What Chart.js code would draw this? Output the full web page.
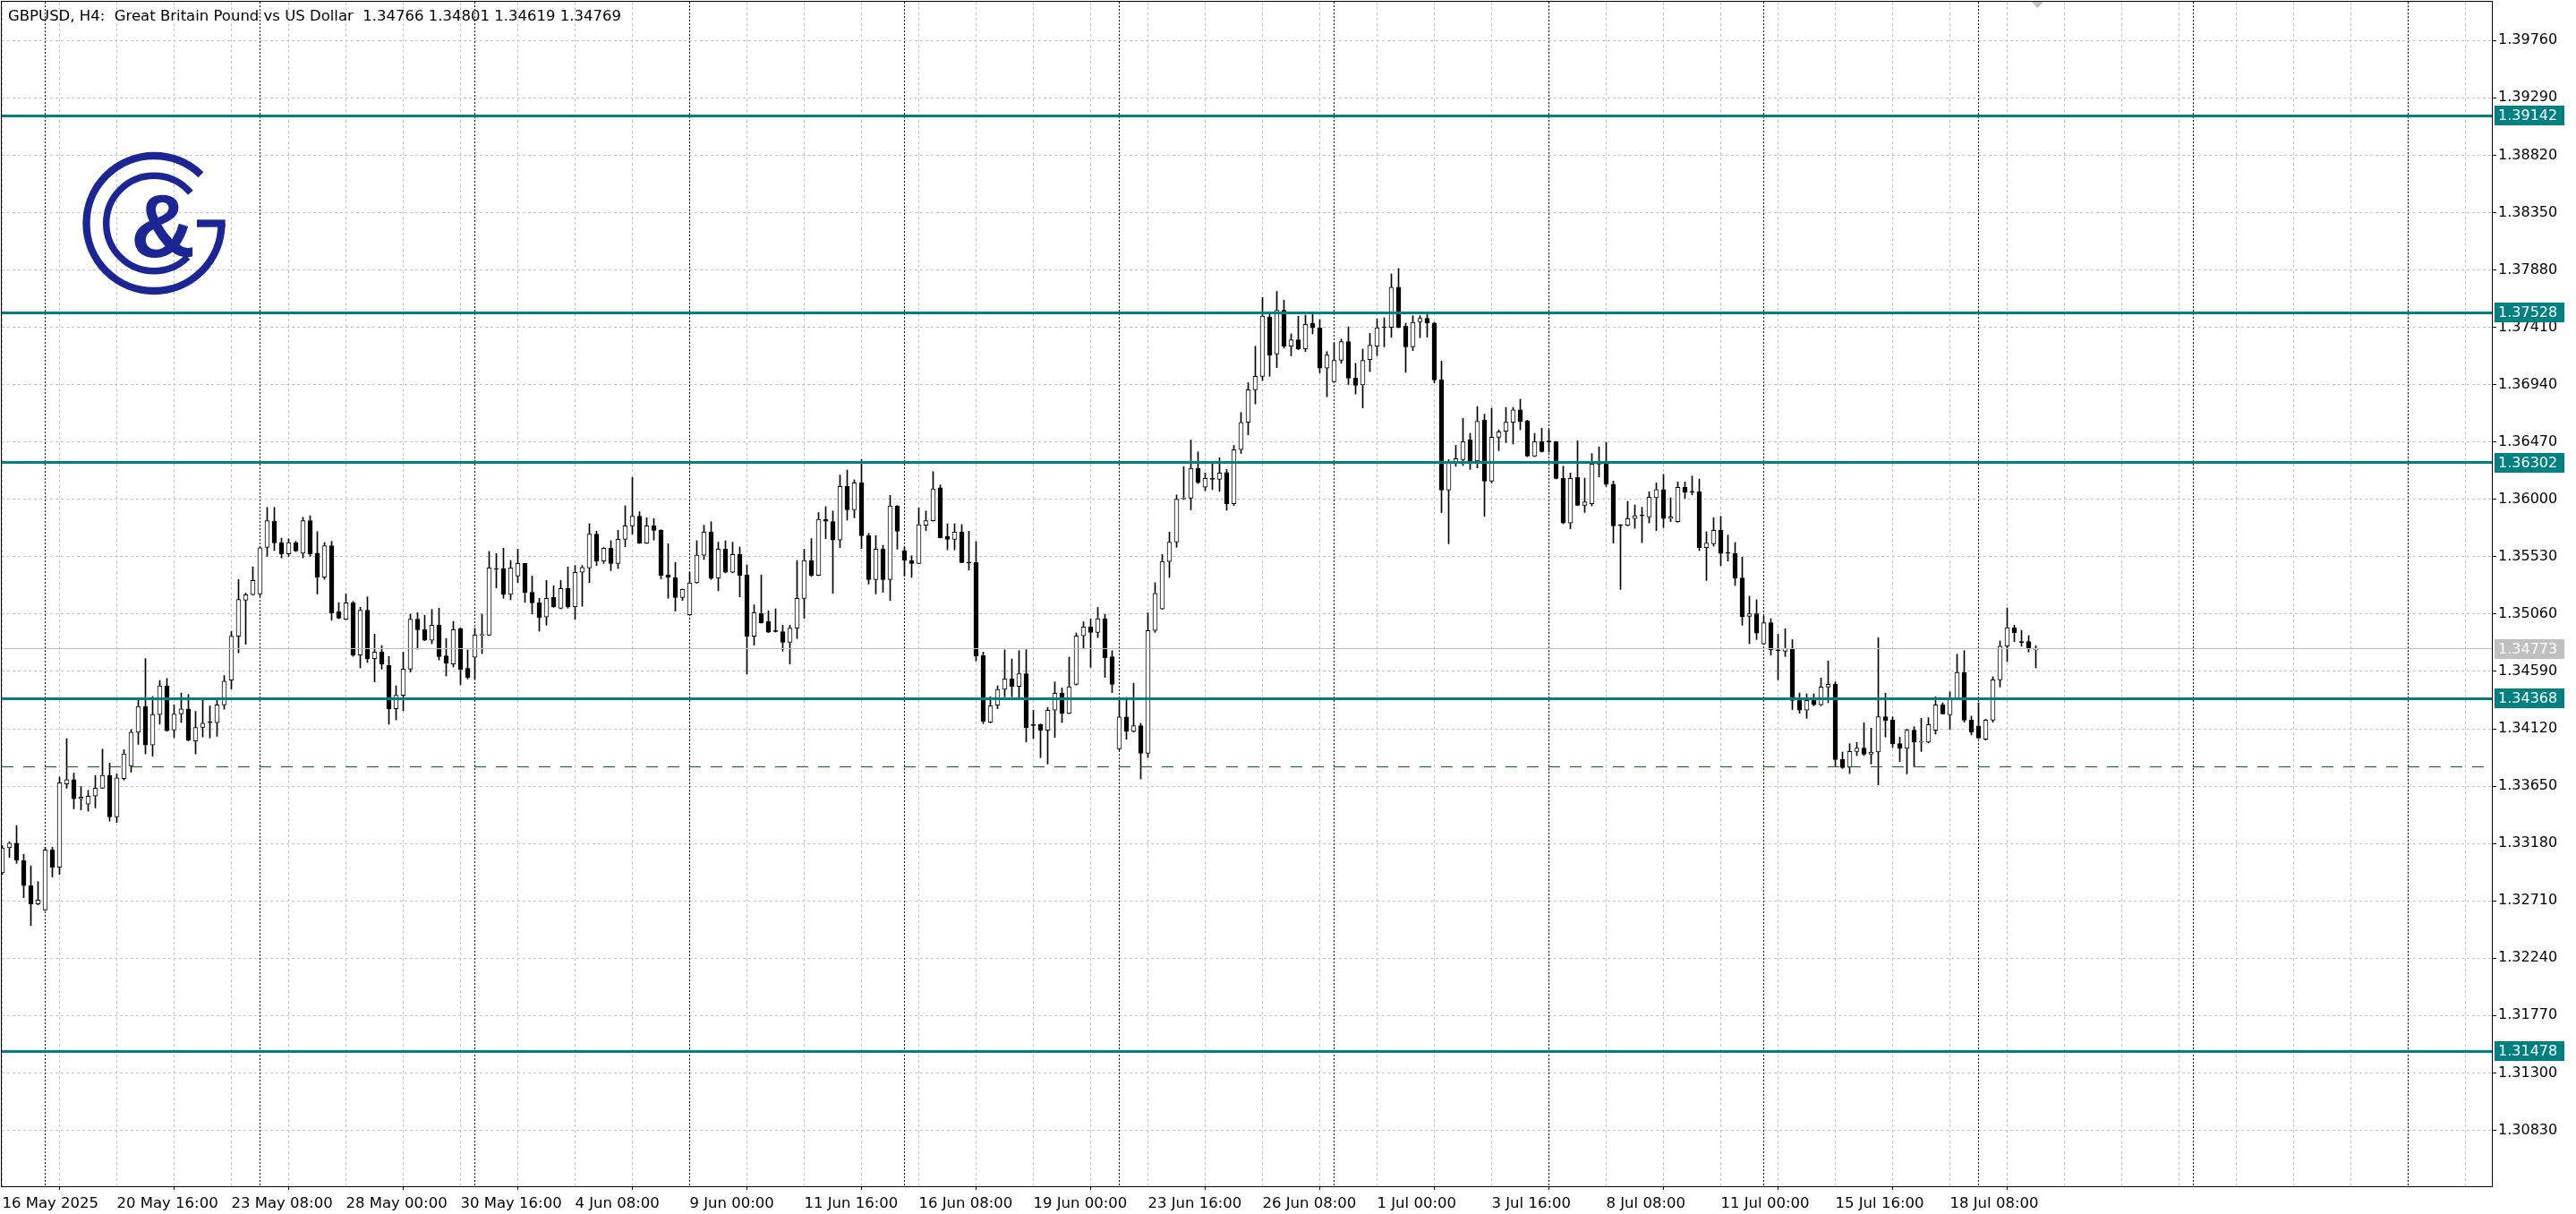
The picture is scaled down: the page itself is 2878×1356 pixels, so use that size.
<!DOCTYPE html>
<html><head><meta charset="utf-8">
<script src="https://cdn.jsdelivr.net/npm/chart.js@4.4.1/dist/chart.umd.min.js"></script>
<style>html,body{margin:0;padding:0;background:#fff;overflow:hidden}canvas{display:block}</style>
</head><body>
<canvas id="c" width="2878" height="1356"></canvas>
<script>
const titleText = "GBPUSD, H4:  Great Britain Pound vs US Dollar  1.34766 1.34801 1.34619 1.34769";
const tickLabels = ["16 May 2025","20 May 16:00","23 May 08:00","28 May 00:00","30 May 16:00","4 Jun 08:00","9 Jun 00:00","11 Jun 16:00","16 Jun 08:00","19 Jun 00:00","23 Jun 16:00","26 Jun 08:00","1 Jul 00:00","3 Jul 16:00","8 Jul 08:00","11 Jul 00:00","15 Jul 16:00","18 Jul 08:00"];
const barsPerLabel = 16;
const weekStarts = [6,36,66,96,126,156,186,216,246,276,306,336];
const yTicks = [1.39760,1.39290,1.38820,1.38350,1.37880,1.37410,1.36940,1.36470,1.36000,1.35530,1.35060,1.34590,1.34120,1.33650,1.33180,1.32710,1.32240,1.31770,1.31300,1.30830];
const levels = [1.39142,1.37528,1.36302,1.34368,1.31478];
const bidPrice = 1.34773;
const dashedLevel = 1.33807;

const opens = [
1.32939,1.33144,1.33183,1.33039,1.32834,1.32685,1.32635,1.33128,1.32986,1.33668,
1.33704,1.33547,1.33502,1.33568,1.33633,1.33738,1.33398,1.33712,1.33817,1.34092,
1.34302,1.33987,1.34236,1.34472,1.34110,1.34241,1.34283,1.34019,1.34131,1.34176,
1.34171,1.34315,1.34519,1.34878,1.35174,1.35219,1.35224,1.35606,1.35821,1.35646,
1.35554,1.35646,1.35559,1.35826,1.35559,1.35363,1.35619,1.35080,1.35018,1.35152,
1.34724,1.35091,1.34695,1.34749,1.34638,1.34284,1.34394,1.34609,1.35018,1.34932,
1.34846,1.34969,1.34717,1.34651,1.34942,1.34614,1.34705,1.34886,1.34888,1.35431,
1.35433,1.35221,1.35372,1.35475,1.35238,1.35152,1.35035,1.35196,1.35108,1.35269,
1.35120,1.35402,1.35438,1.35715,1.35494,1.35600,1.35475,1.35673,1.35783,1.35861,
1.35641,1.35783,1.35746,1.35379,1.35360,1.35196,1.35054,1.35316,1.35543,1.35732,
1.35355,1.35592,1.35402,1.35548,1.35379,1.34878,1.35066,1.34998,1.34922,1.34915,
1.34829,1.34944,1.35189,1.35499,1.35377,1.35837,1.35817,1.35666,1.36106,1.35915,
1.36135,1.35702,1.35343,1.35592,1.35343,1.35947,1.35580,1.35499,1.35475,1.35788,
1.35825,1.36094,1.35697,1.35673,1.35732,1.35482,1.35482,1.34719,1.34174,1.34313,
1.34443,1.34528,1.34467,1.34571,1.34153,1.34156,1.34107,1.34272,1.34411,1.34246,
1.34484,1.34881,1.34954,1.34910,1.35021,1.34710,1.33956,1.34217,1.34098,1.34145,
1.33918,1.34925,1.35102,1.35491,1.35650,1.36004,1.36010,1.36254,1.36100,1.36170,
1.36164,1.36219,1.35964,1.36407,1.36631,1.36898,1.37008,1.37495,1.37191,1.37550,
1.37255,1.37307,1.37234,1.37443,1.37405,1.37075,1.36964,1.37139,1.37292,1.36993,
1.36937,1.37145,1.37255,1.37412,1.37409,1.37739,1.37419,1.37250,1.37456,1.37483,
1.37444,1.36979,1.36076,1.36306,1.36326,1.36490,1.36314,1.36649,1.36150,1.36509,
1.36558,1.36632,1.36734,1.36644,1.36355,1.36473,1.36475,1.36473,1.36172,1.35807,
1.36179,1.35952,1.35964,1.36289,1.36314,1.36125,1.35790,1.35788,1.35842,1.35866,
1.35856,1.36013,1.36081,1.35842,1.35817,1.36098,1.36064,1.36062,1.35604,1.35636,
1.35746,1.35563,1.35558,1.35355,1.35042,1.35062,1.34815,1.34988,1.34766,1.34756,
1.34778,1.34352,1.34272,1.34352,1.34316,1.34462,1.34484,1.33868,1.33807,1.33934,
1.33961,1.33912,1.33929,1.34218,1.34191,1.33998,1.33959,1.34108,1.34010,1.34010,
1.34108,1.34316,1.34235,1.34365,1.34582,1.34191,1.34144,1.34034,1.34191,1.34521,
1.34797,1.34949,1.34832,1.34834,1.34766];

const highs = [
1.33162,1.33196,1.33327,1.33091,1.32997,1.32868,1.33149,1.33149,1.33725,1.34040,
1.33757,1.33647,1.33615,1.33738,1.33953,1.33838,1.33751,1.33948,1.34113,1.34359,
1.34695,1.34385,1.34516,1.34532,1.34315,1.34412,1.34401,1.34262,1.34359,1.34307,
1.34359,1.34556,1.34917,1.35342,1.35232,1.35446,1.35612,1.35934,1.35934,1.35682,
1.35677,1.35656,1.35853,1.35866,1.35735,1.35646,1.35656,1.35153,1.35225,1.35164,
1.35115,1.35201,1.34895,1.34802,1.34712,1.34472,1.34749,1.35059,1.35071,1.35049,
1.35098,1.35108,1.34859,1.35000,1.34947,1.34766,1.34944,1.35059,1.35573,1.35556,
1.35600,1.35499,1.35592,1.35476,1.35372,1.35189,1.35335,1.35291,1.35335,1.35446,
1.35458,1.35458,1.35800,1.35739,1.35605,1.35661,1.35746,1.35947,1.36179,1.35898,
1.35849,1.35842,1.35751,1.35636,1.35482,1.35265,1.35402,1.35661,1.35788,1.35817,
1.35649,1.35661,1.35649,1.35609,1.35463,1.35135,1.35380,1.35086,1.35103,1.34969,
1.34969,1.35499,1.35592,1.35678,1.35891,1.35940,1.35905,1.36199,1.36240,1.36160,
1.36326,1.35722,1.35702,1.35624,1.36032,1.35950,1.35609,1.35538,1.35930,1.35905,
1.36228,1.36118,1.35800,1.35800,1.35793,1.35739,1.35653,1.34749,1.34382,1.34472,
1.34766,1.34692,1.34761,1.34768,1.34272,1.34159,1.34295,1.34504,1.34455,1.34707,
1.34905,1.34997,1.35021,1.35114,1.35058,1.34760,1.34377,1.34377,1.34493,1.34165,
1.35070,1.35317,1.35549,1.35731,1.36036,1.36268,1.36486,1.36390,1.36216,1.36297,
1.36341,1.36245,1.36442,1.36712,1.36956,1.37255,1.37655,1.37521,1.37704,1.37632,
1.37356,1.37501,1.37510,1.37516,1.37472,1.37211,1.37284,1.37313,1.37414,1.37115,
1.37231,1.37360,1.37480,1.37488,1.37847,1.37891,1.37444,1.37505,1.37505,1.37529,
1.37451,1.37133,1.36326,1.36443,1.36663,1.36541,1.36761,1.36698,1.36747,1.36570,
1.36754,1.36754,1.36820,1.36649,1.36541,1.36583,1.36570,1.36475,1.36272,1.36216,
1.36480,1.36174,1.36375,1.36429,1.36468,1.36150,1.35793,1.35984,1.35954,1.35935,
1.36062,1.36135,1.36204,1.36013,1.36143,1.36143,1.36191,1.36167,1.35734,1.35849,
1.35861,1.35707,1.35646,1.35526,1.35206,1.35177,1.35042,1.35022,1.34895,1.34939,
1.34851,1.34413,1.34406,1.34406,1.34536,1.34675,1.34504,1.33929,1.33998,1.34008,
1.34169,1.34125,1.34866,1.34411,1.34218,1.34052,1.34118,1.34137,1.34206,1.34211,
1.34382,1.34333,1.34423,1.34731,1.34761,1.34223,1.34333,1.34198,1.34546,1.34839,
1.35110,1.34969,1.34927,1.34883,1.34801];

const lows = [
1.32926,1.33065,1.33018,1.32735,1.32507,1.32677,1.32630,1.32905,1.32926,1.33633,
1.33463,1.33455,1.33445,1.33471,1.33630,1.33364,1.33353,1.33699,1.33764,1.33992,
1.33914,1.33895,1.34157,1.34100,1.34047,1.34171,1.34021,1.33914,1.34053,1.34045,
1.34058,1.34280,1.34446,1.34742,1.34812,1.35215,1.35205,1.35533,1.35580,1.35520,
1.35533,1.35572,1.35520,1.35533,1.35224,1.35344,1.35009,1.35022,1.35015,1.34712,
1.34619,1.34663,1.34504,1.34609,1.34157,1.34193,1.34267,1.34585,1.34773,1.34843,
1.34817,1.34683,1.34553,1.34626,1.34480,1.34528,1.34528,1.34736,1.34883,1.35274,
1.35189,1.35177,1.35318,1.35157,1.35059,1.34920,1.34969,1.35115,1.35103,1.35108,
1.35018,1.35123,1.35318,1.35458,1.35475,1.35416,1.35433,1.35612,1.35715,1.35638,
1.35638,1.35666,1.35348,1.35189,1.35084,1.35172,1.35051,1.35313,1.35507,1.35343,
1.35250,1.35397,1.35397,1.35201,1.34570,1.34805,1.34985,1.34908,1.34912,1.34756,
1.34651,1.34859,1.35025,1.35367,1.35374,1.35678,1.35230,1.35605,1.35830,1.35849,
1.35597,1.35306,1.35225,1.35238,1.35172,1.35592,1.35372,1.35360,1.35472,1.35744,
1.35822,1.35683,1.35587,1.35587,1.35480,1.35421,1.34675,1.34162,1.34169,1.34284,
1.34382,1.34382,1.34370,1.34011,1.34040,1.33883,1.33831,1.34049,1.34171,1.34243,
1.34478,1.34774,1.34623,1.34867,1.34542,1.34417,1.33947,1.34034,1.34092,1.33709,
1.33883,1.34910,1.35099,1.35360,1.35607,1.35998,1.35914,1.36129,1.36071,1.36080,
1.36065,1.35911,1.35949,1.36376,1.36529,1.36782,1.36973,1.37008,1.37080,1.37240,
1.37176,1.37228,1.37211,1.37356,1.37037,1.36840,1.36959,1.37115,1.36941,1.36863,
1.36749,1.37047,1.37177,1.37250,1.37329,1.37406,1.37040,1.37219,1.37324,1.37329,
1.36954,1.35891,1.35636,1.36272,1.36277,1.36245,1.36257,1.35861,1.36135,1.36399,
1.36465,1.36453,1.36570,1.36350,1.36350,1.36387,1.36387,1.36167,1.35800,1.35759,
1.35949,1.35893,1.35947,1.36184,1.36106,1.35641,1.35262,1.35783,1.35763,1.35646,
1.35807,1.35744,1.35768,1.35817,1.35812,1.36008,1.36037,1.35580,1.35335,1.35617,
1.35458,1.35494,1.35294,1.34969,1.34817,1.34851,1.34810,1.34724,1.34521,1.34712,
1.34277,1.34247,1.34206,1.34308,1.34308,1.34333,1.33807,1.33795,1.33753,1.33900,
1.33900,1.33831,1.33660,1.34052,1.33966,1.33851,1.33751,1.33812,1.33934,1.34003,
1.34076,1.34240,1.34113,1.34362,1.34174,1.34069,1.34039,1.34027,1.34174,1.34462,
1.34670,1.34834,1.34797,1.34749,1.34619];

const closes = [
1.33143,1.33183,1.33044,1.32834,1.32685,1.32716,1.33128,1.32986,1.33678,1.33704,
1.33547,1.33560,1.33568,1.33633,1.33738,1.33398,1.33717,1.33914,1.34092,1.34302,
1.33987,1.34236,1.34472,1.34105,1.34241,1.34283,1.34026,1.34131,1.34165,1.34171,
1.34315,1.34511,1.34878,1.35179,1.35219,1.35336,1.35604,1.35826,1.35643,1.35554,
1.35646,1.35577,1.35826,1.35551,1.35363,1.35619,1.35069,1.35027,1.35152,1.34724,
1.35091,1.34692,1.34749,1.34651,1.34284,1.34394,1.34609,1.35018,1.34932,1.34846,
1.34969,1.34712,1.34658,1.34932,1.34607,1.34541,1.34888,1.34890,1.35438,1.35426,
1.35221,1.35438,1.35475,1.35238,1.35152,1.35030,1.35189,1.35120,1.35269,1.35120,
1.35402,1.35441,1.35715,1.35494,1.35600,1.35475,1.35673,1.35783,1.35861,1.35641,
1.35783,1.35746,1.35377,1.35360,1.35196,1.35262,1.35316,1.35543,1.35732,1.35353,
1.35592,1.35402,1.35548,1.35377,1.34878,1.35071,1.34988,1.34912,1.34917,1.34829,
1.34944,1.35189,1.35499,1.35377,1.35837,1.35820,1.35666,1.36106,1.35915,1.36135,
1.35702,1.35343,1.35592,1.35343,1.35947,1.35739,1.35499,1.35475,1.35793,1.35825,
1.36086,1.35685,1.35673,1.35732,1.35482,1.35478,1.34717,1.34179,1.34308,1.34443,
1.34528,1.34467,1.34570,1.34130,1.34147,1.34107,1.34272,1.34411,1.34246,1.34464,
1.34881,1.34954,1.34910,1.35021,1.34702,1.34484,1.34217,1.34098,1.34145,1.33918,
1.34925,1.35230,1.35491,1.35650,1.36001,1.36010,1.36254,1.36138,1.36172,1.36164,
1.36216,1.35964,1.36407,1.36631,1.36898,1.37008,1.37501,1.37182,1.37550,1.37255,
1.37307,1.37231,1.37434,1.37405,1.37075,1.37182,1.37139,1.37292,1.36993,1.36935,
1.37138,1.37263,1.37407,1.37407,1.37739,1.37409,1.37250,1.37451,1.37483,1.37444,
1.36979,1.36076,1.36301,1.36333,1.36473,1.36314,1.36639,1.36150,1.36509,1.36553,
1.36632,1.36734,1.36639,1.36355,1.36473,1.36392,1.36470,1.36172,1.35807,1.36172,
1.35952,1.35979,1.36289,1.36314,1.36125,1.35783,1.35785,1.35842,1.35866,1.35864,
1.36018,1.36081,1.35842,1.35856,1.36098,1.36057,1.36059,1.35604,1.35641,1.35746,
1.35556,1.35558,1.35355,1.35037,1.35062,1.34903,1.34988,1.34766,1.34758,1.34778,
1.34352,1.34272,1.34352,1.34316,1.34462,1.34484,1.33868,1.33802,1.33934,1.33961,
1.33912,1.33929,1.34218,1.34186,1.33995,1.33959,1.34108,1.34010,1.34012,1.34154,
1.34316,1.34242,1.34365,1.34582,1.34191,1.34093,1.34044,1.34191,1.34521,1.34797,
1.34949,1.34908,1.34827,1.34773,1.34769];

const FONT = '"DejaVu Sans", sans-serif';
const TEAL = '#008080';

const bodyData = closes.map((c, i) => ({x: i, y: [opens[i], c]}));
const wickData = closes.map((c, i) => ({x: i, y: [lows[i], highs[i]]}));

function crisp(v){ return Math.floor(v) + 0.5; }
function noPad(s){ s.paddingTop = 0; s.paddingBottom = 0; s.paddingLeft = 0; s.paddingRight = 0; }

const decor = {
  id: 'decor',
  beforeDraw(chart){
    const c = chart.ctx; c.save(); c.fillStyle = '#fff'; c.fillRect(0,0,chart.width,chart.height); c.restore();
  },
  beforeDatasetsDraw(chart){
    const {ctx, chartArea: a, scales: {x, y}} = chart;
    ctx.save();
    ctx.beginPath(); ctx.rect(a.left, a.top, a.right - a.left, a.bottom - a.top); ctx.clip();
    ctx.lineWidth = 1;
    ctx.strokeStyle = '#c6c6c6';
    ctx.setLineDash([3,3]);
    for (let b = 0; b <= x.max; b += barsPerLabel / 2) {
      const px = crisp(x.getPixelForValue(b));
      ctx.beginPath(); ctx.moveTo(px, a.top); ctx.lineTo(px, a.bottom); ctx.stroke();
    }
    yTicks.forEach(v => {
      const py = crisp(y.getPixelForValue(v));
      ctx.beginPath(); ctx.moveTo(a.left, py); ctx.lineTo(a.right, py); ctx.stroke();
    });
    ctx.strokeStyle = '#000';
    ctx.setLineDash([2,2]);
    weekStarts.forEach(b => {
      const px = crisp(x.getPixelForValue(b));
      ctx.beginPath(); ctx.moveTo(px, a.top); ctx.lineTo(px, a.bottom); ctx.stroke();
    });
    ctx.restore();
  },
  afterDatasetsDraw(chart){
    const {ctx, chartArea: a, scales: {y}} = chart;
    ctx.save();
    ctx.beginPath(); ctx.rect(a.left, a.top, a.right - a.left, a.bottom - a.top); ctx.clip();
    ctx.strokeStyle = '#007000'; ctx.lineWidth = 1; ctx.setLineDash([13,11]);
    let py = crisp(y.getPixelForValue(dashedLevel));
    ctx.beginPath(); ctx.moveTo(a.left, py); ctx.lineTo(a.right, py); ctx.stroke();
    ctx.setLineDash([]);
    ctx.strokeStyle = '#c0c0c0';
    py = crisp(y.getPixelForValue(bidPrice));
    ctx.beginPath(); ctx.moveTo(a.left, py); ctx.lineTo(a.right, py); ctx.stroke();
    ctx.strokeStyle = TEAL; ctx.lineWidth = 3;
    levels.forEach(v => {
      const p = crisp(y.getPixelForValue(v));
      ctx.beginPath(); ctx.moveTo(a.left, p); ctx.lineTo(a.right, p); ctx.stroke();
    });
    ctx.restore();
  },
  afterDraw(chart){
    const {ctx, chartArea: a, scales: {y}} = chart;
    ctx.save();
    ctx.strokeStyle = '#000'; ctx.lineWidth = 1; ctx.setLineDash([]);
    ctx.strokeRect(a.left - 0.5, a.top - 0.5, a.right - a.left + 1, a.bottom - a.top + 1);
    ctx.font = '16px ' + FONT; ctx.textBaseline = 'middle'; ctx.textAlign = 'left';
    const box = (v, bg) => {
      const p = Math.round(y.getPixelForValue(v));
      ctx.fillStyle = bg; ctx.fillRect(a.right + 3, p - 11, 78, 22);
      ctx.fillStyle = '#fff'; ctx.fillText(v.toFixed(5), a.right + 7, p + 1);
    };
    box(bidPrice, '#c0c0c0');
    levels.forEach(v => box(v, TEAL));
    ctx.fillStyle = '#000'; ctx.font = '16.5px ' + FONT; ctx.textBaseline = 'alphabetic';
    ctx.fillText(titleText, 9, 23);
    ctx.fillStyle = '#c0c0c0';
    ctx.beginPath(); ctx.moveTo(2270, a.top); ctx.lineTo(2283, a.top); ctx.lineTo(2276.5, a.top + 7); ctx.closePath(); ctx.fill();
    const cx = 172, cy = 249.5, blue = '#1b2594';
    ctx.strokeStyle = blue; ctx.fillStyle = blue; ctx.lineCap = 'butt';
    ctx.lineWidth = 8.3;
    ctx.beginPath(); ctx.arc(cx, cy, 75.5, 0, 314 * Math.PI / 180); ctx.stroke();
    ctx.fillRect(220, cy - 4.15, cx + 79.65 - 220, 8.3);
    ctx.lineWidth = 7.5;
    ctx.beginPath(); ctx.arc(cx, cy, 53.3, 45 * Math.PI / 180, 320 * Math.PI / 180); ctx.stroke();
    ctx.font = 'bold 100px "Liberation Sans", sans-serif'; ctx.textAlign = 'center';
    ctx.fillText('&', 182, 287);
    ctx.restore();
  }
};

new Chart(document.getElementById('c'), {
  type: 'bar',
  data: {
    datasets: [
      { label: 'body', data: bodyData, order: 1, grouped: false, barThickness: 5, minBarLength: 1,
        backgroundColor: ctx => (closes[ctx.dataIndex] >= opens[ctx.dataIndex] ? '#ffffff' : '#000000'),
        borderColor: '#000000', borderWidth: 1, borderSkipped: false },
      { label: 'wick', data: wickData, order: 2, grouped: false, barThickness: 1,
        backgroundColor: '#000000', borderWidth: 0 }
    ]
  },
  options: {
    responsive: false, animation: false, devicePixelRatio: 1,
    layout: { padding: { left: 2, top: 2, right: 0, bottom: 0 } },
    plugins: { legend: { display: false }, tooltip: { enabled: false } },
    scales: {
      x: {
        type: 'linear', min: -0.0625, max: 347.6875, offset: false,
        afterBuildTicks: s => { s.ticks = tickLabels.map((t, i) => ({ value: i * barsPerLabel })); },
        afterFit: s => { s.height = 31; noPad(s); },
        ticks: { autoSkip: false, maxRotation: 0, minRotation: 0, align: 'start', padding: 6, color: '#000',
                 font: { family: FONT, size: 16.5 }, callback: (v, i) => tickLabels[i] },
        grid: { drawOnChartArea: false, drawTicks: true, tickLength: 4, tickColor: '#000' },
        border: { display: false }
      },
      y: {
        type: 'linear', position: 'right', min: 1.303710, max: 1.400774,
        afterBuildTicks: s => { s.ticks = yTicks.map(v => ({ value: v })); },
        afterFit: s => { s.width = 94; noPad(s); },
        ticks: { autoSkip: false, padding: 2, color: '#000', font: { family: FONT, size: 16 },
                 callback: v => Number(v).toFixed(5) },
        grid: { drawOnChartArea: false, drawTicks: true, tickLength: 5, tickColor: '#000' },
        border: { display: false }
      }
    }
  },
  plugins: [decor]
});
</script>
</body></html>
